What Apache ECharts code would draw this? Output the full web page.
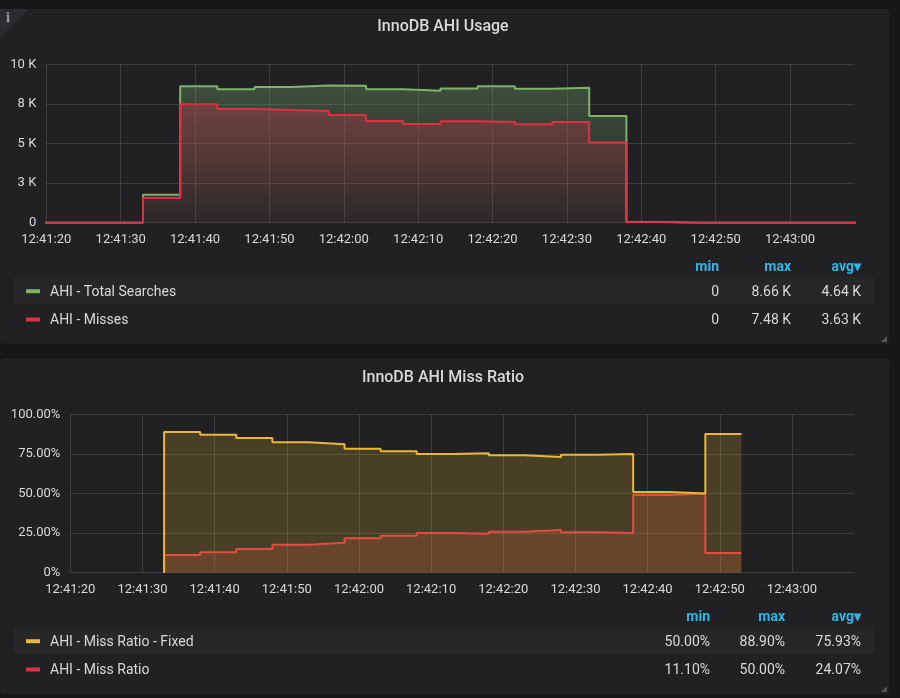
<!DOCTYPE html>
<html>
<head>
<meta charset="utf-8">
<script src="https://cdn.jsdelivr.net/npm/echarts@6/dist/echarts.min.js"></script>
<style>
html, body { margin: 0; padding: 0; background: #161719; }
#chart { width: 900px; height: 698px; }
</style>
</head>
<body>
<div id="chart"></div>
<script>
// --- data ---
// AHI usage, one sample every 5s (value applies to the 5s ending at the timestamp)
var usageTimes = ['12:41:18', '12:41:23', '12:41:28', '12:41:33', '12:41:38', '12:41:43', '12:41:48', '12:41:53',
    '12:41:58', '12:42:03', '12:42:08', '12:42:13', '12:42:18', '12:42:23', '12:42:28', '12:42:33',
    '12:42:38', '12:42:43', '12:42:48', '12:42:53', '12:42:58', '12:43:03', '12:43:08', '12:43:13'];
var totalSearches = [0, 0, 0, 0, 1770, 8610, 8420, 8570, 8660, 8640, 8420, 8330, 8480, 8610, 8460, 8520,
    6740, 40, 0, 0, 0, 0, 0, 0];
var misses = [0, 0, 0, 0, 1560, 7480, 7180, 7110, 7050, 6800, 6420, 6230, 6400, 6360, 6210, 6360,
    5070, 30, 0, 0, 0, 0, 0, 0];

// AHI miss ratio (%)
var ratioTimes = ['12:41:33', '12:41:38', '12:41:43', '12:41:48', '12:41:53', '12:41:58', '12:42:03', '12:42:08',
    '12:42:13', '12:42:18', '12:42:23', '12:42:28', '12:42:33', '12:42:38', '12:42:43', '12:42:48', '12:42:53'];
var missRatioFixed = [0, 88.9, 87.1, 85.0, 82.3, 81.1, 78.3, 76.6, 74.9, 75.4, 74.1, 73.0, 74.5, 74.9, 51.0, 50.0, 87.6];
var missRatio = [0, 11.1, 12.9, 15.0, 17.7, 18.9, 21.7, 23.4, 25.1, 24.6, 25.9, 27.0, 25.5, 25.1, 49.0, 50.0, 12.4];

// axis tick labels
var timeTicks = ['12:41:20', '12:41:30', '12:41:40', '12:41:50', '12:42:00', '12:42:10', '12:42:20', '12:42:30',
    '12:42:40', '12:42:50', '12:43:00'];
var usageTickLabels = ['0', '3 K', '5 K', '8 K', '10 K'];
var ratioTickLabels = ['0%', '25.00%', '50.00%', '75.00%', '100.00%'];

// legend tables
var usageNames = ['AHI - Total Searches', 'AHI - Misses'];
var usageMin = ['0', '0'];
var usageMax = ['8.66 K', '7.48 K'];
var usageAvg = ['4.64 K', '3.63 K'];
var ratioNames = ['AHI - Miss Ratio - Fixed', 'AHI - Miss Ratio'];
var ratioMin = ['50.00%', '11.10%'];
var ratioMax = ['88.90%', '50.00%'];
var ratioAvg = ['75.93%', '24.07%'];

var GREEN = '#7EB26D', RED = '#E02F44', YELLOW = '#EAB839', RED2 = '#E24D42';
var FONT = 'Roboto, "Noto Sans", sans-serif';

function toSec(s) {
    var p = s.split(':');
    return (+p[0]) * 3600 + (+p[1]) * 60 + (+p[2]);
}
var tStart = toSec(timeTicks[0]);
var tEnd = tStart + 108.6;

function pairs(times, vals) {
    var out = [];
    for (var i in times) out.push([toSec(times[i]), vals[i]]);
    return out;
}

function grad(color, a0, a1) {
    var c = echarts.color.parse(color);
    return new echarts.graphic.LinearGradient(0, 0, 0, 1, [
        {offset: 0, color: 'rgba(' + c[0] + ',' + c[1] + ',' + c[2] + ',' + a0 + ')'},
        {offset: 1, color: 'rgba(' + c[0] + ',' + c[1] + ',' + c[2] + ',' + a1 + ')'}
    ]);
}

function xAxis(idx) {
    return {
        type: 'value', gridIndex: idx, min: tStart, max: tEnd, interval: 10,
        axisLine: {show: false}, axisTick: {show: false},
        splitLine: {show: true, showMaxLine: false, lineStyle: {color: 'rgba(255,255,255,0.12)', width: 1}},
        axisLabel: {
            color: '#d8d9da', fontFamily: FONT, fontSize: 13, margin: 11, showMaxLabel: false,
            formatter: function (v) {
                var k = Math.round((v - tStart) / 10);
                return timeTicks[k] || '';
            }
        }
    };
}

function yAxis(idx, max, labels) {
    return {
        type: 'value', gridIndex: idx, min: 0, max: max, interval: max / 4,
        axisLine: {show: false}, axisTick: {show: false},
        splitLine: {lineStyle: {color: 'rgba(255,255,255,0.12)', width: 1}},
        axisLabel: {
            color: '#d8d9da', fontFamily: FONT, fontSize: 13, margin: 10,
            formatter: function (v) { return labels[Math.round(v / (max / 4))]; }
        }
    };
}

function legendTable(top, names, colors, mins, maxs, avgs, cols) {
    var g = [];
    var head = ['min', 'max', 'avg\u25BE'];
    for (var c = 0; c < 3; c++) {
        g.push({type: 'text', silent: true, style: {text: head[c], x: cols[c], y: top + 1.5, textAlign: 'right',
            textVerticalAlign: 'middle', fill: '#33b5e5', font: 'bold 14px ' + FONT}});
    }
    g.push({type: 'rect', silent: true, z: -5, shape: {x: 14, y: top + 11, width: 860, height: 27},
        style: {fill: '#27272a'}});
    for (var i in names) {
        var y = top + 25.5 + i * 28.3;
        g.push({type: 'rect', silent: true, shape: {x: 26, y: y - 2, width: 14, height: 4}, style: {fill: colors[i]}});
        g.push({type: 'text', silent: true, style: {text: names[i], x: 50, y: y + 1.2, textVerticalAlign: 'middle',
            fill: '#d8d9da', font: '14px ' + FONT}});
        var vals = [mins[i], maxs[i], avgs[i]];
        for (var c2 = 0; c2 < 3; c2++) {
            g.push({type: 'text', silent: true, style: {text: vals[c2], x: cols[c2], y: y + 1.2, textAlign: 'right',
                textVerticalAlign: 'middle', fill: '#d8d9da', font: '14px ' + FONT}});
        }
    }
    return g;
}

var chart = echarts.init(document.getElementById('chart'));

var graphics = [
    {type: 'rect', silent: true, z: -10, shape: {x: 0, y: 9, width: 889, height: 335, r: 3}, style: {fill: '#212124'}},
    {type: 'rect', silent: true, z: -10, shape: {x: 0, y: 359, width: 889, height: 335, r: 3}, style: {fill: '#212124'}},
    {type: 'polygon', silent: true, z: -8, shape: {points: [[0, 9], [29, 9], [0, 38]]}, style: {fill: '#2c2c30'}},
    {type: 'text', silent: true, style: {text: 'i', x: 8, y: 19, textAlign: 'center', textVerticalAlign: 'middle',
        fill: '#9a9a9a', font: 'bold 12px "DejaVu Serif", serif'}},
    {type: 'polygon', silent: true, shape: {points: [[887, 336], [887, 342], [881, 342]]}, style: {fill: '#555'}},
    {type: 'polygon', silent: true, shape: {points: [[887, 686], [887, 692], [881, 692]]}, style: {fill: '#555'}},
    {type: 'text', silent: true, style: {text: 'InnoDB AHI Usage', x: 443, y: 27, textAlign: 'center',
        textVerticalAlign: 'middle', fill: '#d8d9da', font: '500 16px ' + FONT}},
    {type: 'text', silent: true, style: {text: 'InnoDB AHI Miss Ratio', x: 443, y: 378, textAlign: 'center',
        textVerticalAlign: 'middle', fill: '#d8d9da', font: '500 16px ' + FONT}}
];
graphics = graphics.concat(legendTable(265.7, usageNames, [GREEN, RED], usageMin, usageMax, usageAvg, [719, 791, 861]));
graphics = graphics.concat(legendTable(615.7, ratioNames, [YELLOW, RED], ratioMin, ratioMax, ratioAvg, [710, 785, 861]));

option = {
    backgroundColor: '#161719',
    animation: false,
    grid: [
        {left: 46.3, top: 64.3, width: 807.7, height: 158.4, outerBoundsMode: 'none'},
        {left: 70.3, top: 414.3, width: 783.7, height: 158.4, outerBoundsMode: 'none'}
    ],
    xAxis: [xAxis(0), xAxis(1)],
    yAxis: [yAxis(0, 10000, usageTickLabels), yAxis(1, 100, ratioTickLabels)],
    graphic: graphics,
    series: [
        {
            name: usageNames[0], type: 'line', xAxisIndex: 0, yAxisIndex: 0, step: 'start',
            symbol: 'none', data: pairs(usageTimes, totalSearches),
            lineStyle: {color: GREEN, width: 2}, itemStyle: {color: GREEN},
            areaStyle: {color: grad(GREEN, 0.45, 0.05)}
        },
        {
            name: usageNames[1], type: 'line', xAxisIndex: 0, yAxisIndex: 0, step: 'start',
            symbol: 'none', data: pairs(usageTimes, misses),
            lineStyle: {color: RED, width: 2}, itemStyle: {color: RED},
            areaStyle: {color: grad(RED, 0.45, 0.05)}
        },
        {
            name: ratioNames[1], type: 'line', xAxisIndex: 1, yAxisIndex: 1, step: 'start',
            symbol: 'none', data: pairs(ratioTimes, missRatio),
            lineStyle: {color: RED2, width: 2}, itemStyle: {color: RED2},
            areaStyle: {color: RED2, opacity: 0.2}
        },
        {
            name: ratioNames[0], type: 'line', xAxisIndex: 1, yAxisIndex: 1, step: 'start',
            symbol: 'none', data: pairs(ratioTimes, missRatioFixed),
            lineStyle: {color: YELLOW, width: 2}, itemStyle: {color: YELLOW},
            areaStyle: {color: YELLOW, opacity: 0.2}
        }
    ]
};
chart.setOption(option);
</script>
</body>
</html>
